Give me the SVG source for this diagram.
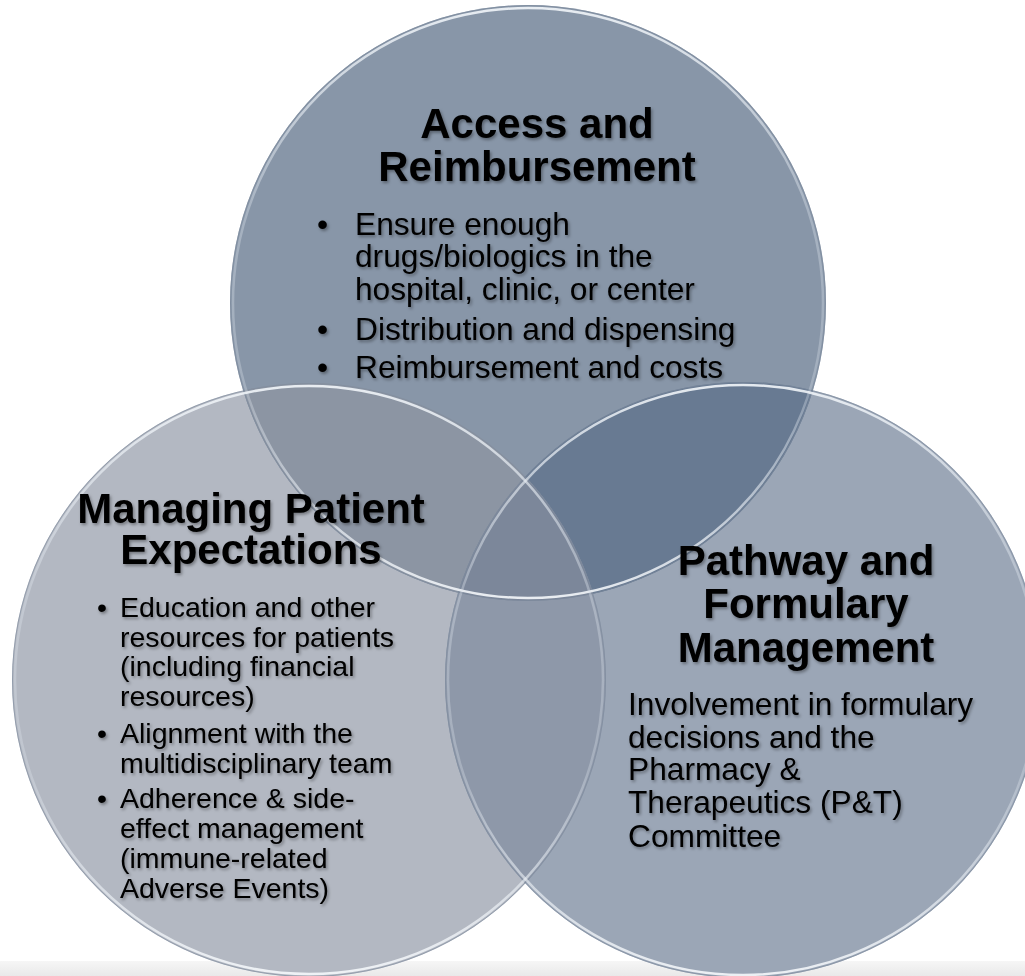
<svg xmlns="http://www.w3.org/2000/svg" width="1025" height="976" viewBox="0 0 1025 976">
  <defs>
    <style>
      .h { font-family: "Liberation Sans", Arial, sans-serif; font-weight: bold; font-size: 42px; fill: #000; text-anchor: middle; }
      .b { font-family: "Liberation Sans", Arial, sans-serif; font-size: 31.7px; fill: #000; }
      .bl { font-family: "Liberation Sans", Arial, sans-serif; font-size: 28.5px; fill: #000; }
      .rim { fill: none; stroke: url(#rimGrad); stroke-width: 2.5; }
      .edge { fill: none; stroke: #7d8a9c; stroke-width: 1; stroke-opacity: 0.6; }
      .txt { filter: url(#shadow); }
    </style>
    <linearGradient id="rimGrad" x1="0" y1="0" x2="0" y2="1">
      <stop offset="0" stop-color="#f2f6fa" stop-opacity="0.9"/>
      <stop offset="0.35" stop-color="#dfe6ee" stop-opacity="0.35"/>
      <stop offset="0.65" stop-color="#dfe6ee" stop-opacity="0.3"/>
      <stop offset="1" stop-color="#f5f8fb" stop-opacity="0.9"/>
    </linearGradient>
    <linearGradient id="band" x1="0" y1="0" x2="0" y2="1">
      <stop offset="0" stop-color="#f6f6f6"/>
      <stop offset="1" stop-color="#e9e9e9"/>
    </linearGradient>
    <clipPath id="clipT"><circle cx="528" cy="303" r="298"/></clipPath>
    <clipPath id="clipL"><circle cx="309" cy="680" r="297"/></clipPath>
    <clipPath id="clipR"><circle cx="743" cy="680" r="298"/></clipPath>
    <filter id="shadow" x="-5%" y="-20%" width="110%" height="140%">
      <feDropShadow dx="1.5" dy="2" stdDeviation="1.6" flood-color="#000" flood-opacity="0.35"/>
    </filter>
  </defs>

  <rect x="0" y="0" width="1025" height="976" fill="#ffffff"/>
  <rect x="0" y="961" width="1025" height="15" fill="url(#band)"/>

  <g id="shapes">
    <circle cx="309" cy="680" r="297" fill="#b3b8c2"/>
    <circle cx="743" cy="680" r="298" fill="#9ba6b6"/>
    <circle cx="528" cy="303" r="298" fill="#8896a8"/>
    <circle cx="309" cy="680" r="297" fill="#8c95a3" clip-path="url(#clipT)"/>
    <circle cx="743" cy="680" r="298" fill="#687a92" clip-path="url(#clipT)"/>
    <circle cx="743" cy="680" r="298" fill="#8e98a9" clip-path="url(#clipL)"/>
    <g clip-path="url(#clipT)">
      <circle cx="309" cy="680" r="297" fill="#7c879a" clip-path="url(#clipR)"/>
    </g>
    <circle class="edge" cx="528" cy="303" r="297.5"/>
    <circle class="edge" cx="309" cy="680" r="296.5"/>
    <circle class="edge" cx="743" cy="680" r="297.5"/>
    <circle class="rim" cx="528" cy="303" r="295"/>
    <circle class="rim" cx="309" cy="680" r="294"/>
    <circle class="rim" cx="743" cy="680" r="295"/>
  </g>

  <g id="node-access" class="txt">
    <text class="h" x="537" y="138">Access and</text>
    <text class="h" x="537" y="181">Reimbursement</text>
    <text class="b" x="317" y="235">•</text>
    <text class="b" x="355" y="235">Ensure enough</text>
    <text class="b" x="355" y="267">drugs/biologics in the</text>
    <text class="b" x="355" y="300">hospital, clinic, or center</text>
    <text class="b" x="317" y="340">•</text>
    <text class="b" x="355" y="340">Distribution and dispensing</text>
    <text class="b" x="317" y="378">•</text>
    <text class="b" x="355" y="378">Reimbursement and costs</text>
  </g>

  <g id="node-patient" class="txt">
    <text class="h" x="251" y="523">Managing Patient</text>
    <text class="h" x="251" y="564">Expectations</text>
    <text class="bl" x="97" y="617">•</text>
    <text class="bl" x="120" y="617">Education and other</text>
    <text class="bl" x="120" y="647">resources for patients</text>
    <text class="bl" x="120" y="676">(including financial</text>
    <text class="bl" x="120" y="706">resources)</text>
    <text class="bl" x="97" y="743">•</text>
    <text class="bl" x="120" y="743">Alignment with the</text>
    <text class="bl" x="120" y="773">multidisciplinary team</text>
    <text class="bl" x="97" y="808">•</text>
    <text class="bl" x="120" y="808">Adherence &amp; side-</text>
    <text class="bl" x="120" y="838">effect management</text>
    <text class="bl" x="120" y="868">(immune-related</text>
    <text class="bl" x="120" y="898">Adverse Events)</text>
  </g>

  <g id="node-pathway" class="txt">
    <text class="h" x="806" y="575">Pathway and</text>
    <text class="h" x="806" y="618">Formulary</text>
    <text class="h" x="806" y="662">Management</text>
    <text class="b" x="628" y="715">Involvement in formulary</text>
    <text class="b" x="628" y="748">decisions and the</text>
    <text class="b" x="628" y="780">Pharmacy &amp;</text>
    <text class="b" x="628" y="813">Therapeutics (P&amp;T)</text>
    <text class="b" x="628" y="847">Committee</text>
  </g>

  <g id="connectors"/>
</svg>
